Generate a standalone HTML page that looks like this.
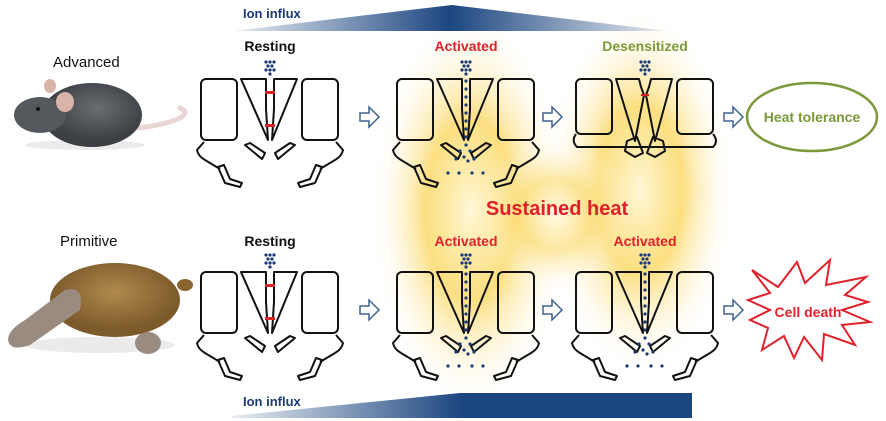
<!DOCTYPE html>
<html><head><meta charset="utf-8"><style>
html,body{margin:0;padding:0;background:#fff}
svg{display:block}
text{font-family:"Liberation Sans",sans-serif}
</style></head><body>
<svg width="886" height="421" viewBox="0 0 886 421" xmlns="http://www.w3.org/2000/svg">
<defs>
<linearGradient id="gt" x1="0" x2="1"><stop offset="0" stop-color="#1c4680" stop-opacity="0.1"/><stop offset="0.5" stop-color="#1c4680"/><stop offset="1" stop-color="#1c4680" stop-opacity="0.1"/></linearGradient>
<linearGradient id="gb" x1="0" x2="1"><stop offset="0" stop-color="#1c4680" stop-opacity="0.1"/><stop offset="0.5" stop-color="#1c4680"/><stop offset="1" stop-color="#1c4680"/></linearGradient>
<radialGradient id="glow"><stop offset="0" stop-color="#fff8d8"/><stop offset="0.45" stop-color="#fbd96a" stop-opacity="0.85"/><stop offset="1" stop-color="#fff" stop-opacity="0"/></radialGradient>
<radialGradient id="mouse" cx="0.55" cy="0.4"><stop offset="0" stop-color="#6a6e73"/><stop offset="1" stop-color="#3c3f44"/></radialGradient>
<radialGradient id="plat" cx="0.5" cy="0.4"><stop offset="0" stop-color="#b08a4e"/><stop offset="1" stop-color="#7c5a2a"/></radialGradient>
<g id="base" fill="none" stroke="#111" stroke-width="2" stroke-linejoin="round">
<rect x="-69" y="0" width="36" height="61" rx="5"/>
<rect x="32" y="0" width="36" height="61" rx="5"/>
<path d="M-66,63 L-73,71 Q-72,77 -65,81 L-50,90"/>
<path d="M-52,88 L-46,86 L-40,100 L-28,104 L-30,108 L-45,104 Z"/>
<path d="M66,63 L73,71 Q72,77 65,81 L50,90"/>
<path d="M52,88 L46,86 L40,100 L28,104 L30,108 L45,104 Z"/>
</g>
<g id="chan" fill="none" stroke="#111" stroke-width="2" stroke-linejoin="round">
<use href="#base"/>
<path d="M-29,0 L-4,0 L-4,30 L-2,61 Z"/>
<path d="M27,0 L4,0 L4,30 L2,61 Z"/>
<path d="M-25,66 L-20,64 L-5,74 L-8,80 Z"/>
<path d="M25,66 L20,64 L5,74 L8,80 Z"/>
</g>
<g id="chan2" fill="none" stroke="#111" stroke-width="2" stroke-linejoin="round">
<rect x="-69" y="0" width="36" height="55" rx="5"/>
<rect x="32" y="0" width="36" height="55" rx="5"/>
<path d="M-69,55 Q-74,62 -68,68 L68,68 Q74,62 68,55"/>
<path d="M-29,0 L-6,0 L-4,8 L-1,16 L-10,62 Z"/>
<path d="M27,0 L6,0 L4,8 L1,16 L10,62 Z"/>
<path d="M-18,62 L-8,58 L-2,74 L-10,78 L-20,72 Z"/>
<path d="M18,62 L8,58 L2,74 L10,78 L20,72 Z"/>
</g>
<g id="dtop" fill="#1c3a73"><circle cx="-4" cy="-17" r="1.6"/><circle cx="0" cy="-17" r="1.6"/><circle cx="4" cy="-17" r="1.6"/><circle cx="-2" cy="-13" r="1.6"/><circle cx="2" cy="-13" r="1.6"/><circle cx="-4" cy="-9" r="1.6"/><circle cx="0" cy="-9" r="1.6"/><circle cx="4" cy="-9" r="1.6"/><circle cx="0" cy="-5" r="1.6"/></g>
<g id="dflow" fill="#1c3a73"><circle cx="0" cy="2" r="1.6"/><circle cx="0" cy="10" r="1.6"/><circle cx="0" cy="18" r="1.6"/><circle cx="0" cy="26" r="1.6"/><circle cx="0" cy="34" r="1.6"/><circle cx="0" cy="42" r="1.6"/><circle cx="0" cy="50" r="1.6"/><circle cx="0" cy="58" r="1.6"/><circle cx="0" cy="66" r="1.6"/><circle cx="-6" cy="72" r="1.6"/><circle cx="4" cy="72" r="1.6"/><circle cx="-2" cy="78" r="1.6"/><circle cx="-10" cy="80" r="1.6"/><circle cx="8" cy="80" r="1.6"/><circle cx="2" cy="82" r="1.6"/><circle cx="-18" cy="94" r="1.6"/><circle cx="-7" cy="94" r="1.6"/><circle cx="6" cy="94" r="1.6"/><circle cx="17" cy="94" r="1.6"/></g>
<g id="red" fill="#d8212a"><rect x="-5" y="12" width="10" height="3"/><rect x="-5" y="45" width="10" height="3"/></g>
</defs>

<!-- heat glow -->
<ellipse cx="470" cy="210" rx="100" ry="200" fill="url(#glow)"/>
<ellipse cx="640" cy="190" rx="95" ry="185" fill="url(#glow)"/>
<ellipse cx="555" cy="215" rx="80" ry="80" fill="url(#glow)" opacity="0.7"/>

<!-- ion influx bars -->
<polygon points="233,31 452,5 667,31" fill="url(#gt)"/>
<text x="243" y="18" font-size="13" font-weight="bold" fill="#1c3a73">Ion influx</text>
<polygon points="232,416 460,393 692,393 692,418 232,418" fill="url(#gb)"/>
<text x="243" y="406" font-size="13" font-weight="bold" fill="#1c3a73">Ion influx</text>

<!-- animals -->
<text x="53" y="67" font-size="15" fill="#111">Advanced</text>
<ellipse cx="85" cy="145" rx="60" ry="5" fill="#ddd" opacity="0.6"/>
<path d="M138,128 Q165,125 180,118 Q190,112 180,108" stroke="#e8d6d4" stroke-width="5" fill="none" stroke-linecap="round"/>
<ellipse cx="92" cy="115" rx="50" ry="32" fill="url(#mouse)"/>
<ellipse cx="40" cy="115" rx="26" ry="18" fill="#55585d"/>
<ellipse cx="65" cy="102" rx="9" ry="10" fill="#d9b3a8"/>
<ellipse cx="50" cy="86" rx="6" ry="7" fill="#d9b3a8"/>
<circle cx="38" cy="109" r="2" fill="#111"/>
<text x="60" y="246" font-size="15" fill="#111">Primitive</text>
<ellipse cx="100" cy="345" rx="75" ry="8" fill="#ddd" opacity="0.6"/>
<ellipse cx="115" cy="300" rx="65" ry="37" fill="url(#plat)"/>
<path d="M65,290 Q85,285 80,310 L30,345 Q10,352 8,340 Q8,330 25,320 Z" fill="#9a8b80"/>
<ellipse cx="148" cy="343" rx="13" ry="11" fill="#9a8b80"/>
<ellipse cx="185" cy="285" rx="8" ry="6" fill="#8a6532"/>

<!-- labels -->
<g font-size="14" font-weight="bold" text-anchor="middle">
<text x="270" y="51" fill="#111">Resting</text>
<text x="466" y="51" fill="#e0202a">Activated</text>
<text x="645" y="51" fill="#7a9a3a">Desensitized</text>
<text x="270" y="246" fill="#111">Resting</text>
<text x="466" y="246" fill="#e0202a">Activated</text>
<text x="645" y="246" fill="#e0202a">Activated</text>
</g>
<text x="557" y="215" font-size="20" font-weight="bold" fill="#e0202a" text-anchor="middle">Sustained heat</text>

<!-- channels top -->
<g transform="translate(270,79)"><use href="#chan"/><use href="#dtop"/><use href="#red"/></g>
<g transform="translate(466,79)"><use href="#chan"/><use href="#dtop"/><use href="#dflow"/></g>
<g transform="translate(645,79)"><use href="#chan2"/><use href="#dtop"/><rect x="-4" y="15" width="8" height="2" fill="#d8212a"/></g>
<!-- channels bottom -->
<g transform="translate(270,272)"><use href="#chan"/><use href="#dtop"/><use href="#red"/></g>
<g transform="translate(466,272)"><use href="#chan"/><use href="#dtop"/><use href="#dflow"/></g>
<g transform="translate(645,272)"><use href="#chan"/><use href="#dtop"/><use href="#dflow"/></g>

<!-- arrows -->
<g fill="#fff" stroke="#3e6290" stroke-width="1.5">
<path transform="translate(360,117)" d="M0,-4 L9,-4 L9,-10 L19,0 L9,10 L9,4 L0,4 Z"/>
<path transform="translate(543,117)" d="M0,-4 L9,-4 L9,-10 L19,0 L9,10 L9,4 L0,4 Z"/>
<path transform="translate(724,117)" d="M0,-4 L9,-4 L9,-10 L19,0 L9,10 L9,4 L0,4 Z"/>
<path transform="translate(360,310)" d="M0,-4 L9,-4 L9,-10 L19,0 L9,10 L9,4 L0,4 Z"/>
<path transform="translate(543,310)" d="M0,-4 L9,-4 L9,-10 L19,0 L9,10 L9,4 L0,4 Z"/>
<path transform="translate(724,310)" d="M0,-4 L9,-4 L9,-10 L19,0 L9,10 L9,4 L0,4 Z"/>
</g>

<ellipse cx="812" cy="117" rx="65" ry="34" fill="#fff" stroke="#7a9a3a" stroke-width="2.5"/>
<text x="812" y="122" font-size="14" font-weight="bold" fill="#7a9a3a" text-anchor="middle">Heat tolerance</text>

<polygon points="752,270 778,287 797,262 805,283 830,260 826,285 866,277 845,295 868,302 842,310 870,322 842,325 855,345 824,334 822,360 804,337 794,358 784,336 762,350 768,328 750,320 770,310 748,300 770,293" fill="#fff" stroke="#e0202a" stroke-width="2"/>
<text x="808" y="317" font-size="14" font-weight="bold" fill="#e0202a" text-anchor="middle">Cell death</text>
</svg>
</body></html>
